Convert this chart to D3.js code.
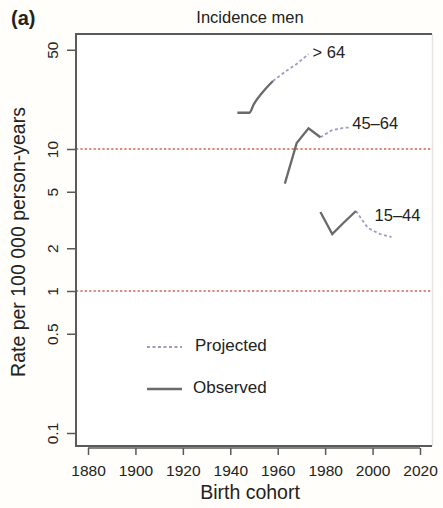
<!DOCTYPE html>
<html>
<head>
<meta charset="utf-8">
<script src="https://cdn.jsdelivr.net/npm/d3@7"></script>
<style>
  html, body { margin: 0; padding: 0; background: #fffefa; }
  svg { display: block; font-family: "Liberation Sans", Arial, sans-serif; }
</style>
</head>
<body>
<svg id="chart" width="443" height="508"></svg>
<script>
// Incidence among men by birth cohort, per age group (rate per 100 000 person-years)
const ageGroups = ["> 64", "45–64", "15–44"];

const obsOver64Years = [1943, 1948, 1950, 1953, 1955, 1958];
const obsOver64Rates = [18, 18, 20.8, 24.4, 26.7, 30.1];
const projOver64Years = [1958, 1963, 1968, 1973];
const projOver64Rates = [30.1, 34.9, 39.7, 46.6];

const obs4564Years = [1963, 1968, 1973, 1978];
const obs4564Rates = [5.7, 11.0, 14.0, 12.1];
const proj4564Years = [1978, 1983, 1988, 1991];
const proj4564Rates = [12.1, 13.6, 14.1, 14.2];

const obs1544Years = [1978, 1983, 1988, 1993];
const obs1544Rates = [3.6, 2.52, 3.05, 3.66];
const proj1544Years = [1993, 1998, 2003, 2008];
const proj1544Rates = [3.66, 2.78, 2.52, 2.4];

const xTicks = [1880, 1900, 1920, 1940, 1960, 1980, 2000, 2020];
const yTicks = [0.1, 0.5, 1, 2, 5, 10, 50];
const yTickLabels = ["0.1", "0.5", "1", "2", "5", "10", "50"];
const refLines = [1, 10];

const legendItems = ["Projected", "Observed"];

const svg = d3.select("#chart");
const ink = "#222";
const axisGrey = "#5a5a5a";
const obsColor = "#6a6a6a";
const projColor = "#9c9cc4";

// plot frame
const frame = { left: 76, right: 432, top: 34, bottom: 446 };

const x = d3.scaleLinear().domain([1880, 2020]).range([88, 420]);
const y = d3.scaleLog().domain([0.1, 10]).range([433, 149]);

// white plot panel
svg.append("rect")
  .attr("x", frame.left).attr("y", frame.top)
  .attr("width", frame.right - frame.left).attr("height", frame.bottom - frame.top)
  .attr("fill", "#ffffff");

// faint right border
svg.append("line")
  .attr("x1", frame.right + 0.5).attr("x2", frame.right + 0.5)
  .attr("y1", frame.top).attr("y2", frame.bottom)
  .attr("stroke", "#e4e4e4").attr("stroke-width", 1.5);

// reference lines at 1 and 10
svg.selectAll(".ref").data(refLines).enter().append("line")
  .attr("x1", frame.left).attr("x2", frame.right)
  .attr("y1", d => y(d)).attr("y2", d => y(d))
  .attr("stroke", "#d98a78").attr("stroke-width", 2)
  .attr("stroke-dasharray", "2.2,2.2");

// frame lines: left, top, bottom
svg.append("path")
  .attr("d", `M${frame.right},${frame.top}H${frame.left}V${frame.bottom}H${frame.right}`)
  .attr("fill", "none").attr("stroke", axisGrey).attr("stroke-width", 2);

// x axis, offset below the frame
const xAxis = d3.axisBottom(x).tickValues(xTicks).tickFormat(d3.format("d")).tickSize(7).tickSizeOuter(0);
const gx = svg.append("g").attr("transform", "translate(0,448)").call(xAxis);
gx.select(".domain").attr("stroke", axisGrey).attr("stroke-width", 1.5)
  .attr("d", `M${x(1880)},0H${x(2020)}`);
gx.selectAll(".tick line").attr("stroke", axisGrey).attr("stroke-width", 1.5);
gx.selectAll(".tick text")
  .attr("font-size", 15.5).attr("fill", ink)
  .attr("font-family", "Liberation Sans, Arial, sans-serif")
  .attr("y", 24).attr("dy", 0).attr("dominant-baseline", "middle");

// y axis
const yAxis = d3.axisLeft(y).tickValues(yTicks)
  .tickFormat((d, i) => yTickLabels[i]).tickSize(9).tickSizeOuter(0);
const gy = svg.append("g").attr("transform", `translate(${frame.left},0)`).call(yAxis);
gy.select(".domain").remove();
gy.selectAll(".tick line").attr("stroke", axisGrey).attr("stroke-width", 1.5);
gy.selectAll(".tick text")
  .attr("font-size", 15.5).attr("fill", ink)
  .attr("font-family", "Liberation Sans, Arial, sans-serif")
  .attr("x", 0).attr("dy", 0)
  .attr("text-anchor", "middle")
  .attr("transform", "translate(-22,0) rotate(-90)")
  .attr("dominant-baseline", "middle");

// series lines
const line = d3.line().x(d => x(d[0])).y(d => y(d[1]));
const smoothLine = d3.line().x(d => x(d[0])).y(d => y(d[1])).curve(d3.curveMonotoneX);
const pairs = (ys, vs) => ys.map((yr, i) => [yr, vs[i]]);

const projected = [
  pairs(projOver64Years, projOver64Rates),
  pairs(proj4564Years, proj4564Rates),
  pairs(proj1544Years, proj1544Rates)
];
const observed = [
  pairs(obsOver64Years, obsOver64Rates),
  pairs(obs4564Years, obs4564Rates),
  pairs(obs1544Years, obs1544Rates)
];

svg.selectAll(".proj").data(projected).enter().append("path")
  .attr("d", line).attr("fill", "none")
  .attr("stroke", projColor).attr("stroke-width", 1.8)
  .attr("stroke-dasharray", "3,2.5");

// the oldest group is drawn with a smooth curve, the others as joined segments
svg.selectAll(".obs").data(observed).enter().append("path")
  .attr("d", (d, i) => i === 0 ? smoothLine(d) : line(d)).attr("fill", "none")
  .attr("stroke", obsColor).attr("stroke-width", 2.3)
  .attr("stroke-linejoin", "miter");

// age-group labels at the end of each projected line
const labelOffsets = [[4, 0], [1, -3], [-17, -20]];
const ends = projected.map(s => s[s.length - 1]);
svg.selectAll(".grp").data(ageGroups).enter().append("text")
  .attr("x", (d, i) => x(ends[i][0]) + labelOffsets[i][0])
  .attr("y", (d, i) => y(ends[i][1]) + labelOffsets[i][1])
  .attr("dominant-baseline", "middle")
  .attr("font-size", 16.5).attr("fill", ink)
  .text(d => d);

// legend
const legendY = [347, 389];
const lg = svg.selectAll(".lg").data(legendItems).enter().append("g");
lg.append("line")
  .attr("x1", 147).attr("x2", 182)
  .attr("y1", (d, i) => legendY[i]).attr("y2", (d, i) => legendY[i])
  .attr("stroke", (d, i) => i === 0 ? projColor : obsColor)
  .attr("stroke-width", (d, i) => i === 0 ? 1.8 : 2.5)
  .attr("stroke-dasharray", (d, i) => i === 0 ? "3,2.5" : null);
lg.append("text")
  .attr("x", (d, i) => i === 0 ? 195 : 193)
  .attr("y", (d, i) => legendY[i])
  .attr("dominant-baseline", "middle")
  .attr("font-size", 17).attr("fill", ink)
  .text(d => d);

// titles
svg.append("text").attr("x", 11).attr("y", 20).attr("dominant-baseline", "middle")
  .attr("font-size", 20).attr("font-weight", "bold").attr("fill", ink).text("(a)");
svg.append("text").attr("x", 250).attr("y", 19).attr("dominant-baseline", "middle")
  .attr("text-anchor", "middle").attr("font-size", 16.5).attr("fill", ink).text("Incidence men");
svg.append("text").attr("x", 250).attr("y", 494).attr("dominant-baseline", "middle")
  .attr("text-anchor", "middle").attr("font-size", 19.5).attr("fill", ink).text("Birth cohort");
svg.append("text")
  .attr("transform", "translate(20,242) rotate(-90)")
  .attr("text-anchor", "middle").attr("dominant-baseline", "middle")
  .attr("font-size", 19.5).attr("fill", ink).text("Rate per 100 000 person-years");
</script>
</body>
</html>
